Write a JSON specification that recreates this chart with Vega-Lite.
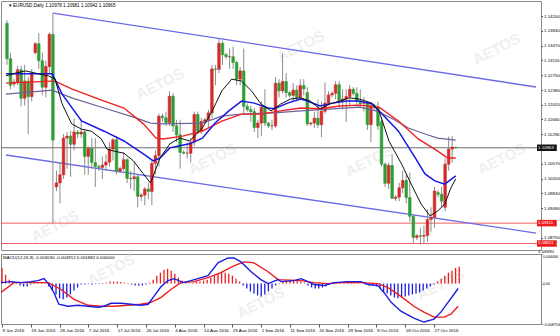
{
"$schema":"https://vega.github.io/schema/vega-lite/v6.json",
"padding":0,
"background":"#ffffff",
"spacing":4,
"bounds":"flush",
"config":{"view":{"stroke":"#8a8a8a","strokeWidth":1},"font":"Liberation Sans","axis":{"labelFont":"Liberation Sans","labelFontSize":4.4,"labelColor":"#000000","tickColor":"#555555","tickSize":1.5,"domain":false,"grid":false,"title":null,"labelOverlap":false,"labelBound":false,"labelFlush":false}},
"datasets":{
"candles":[
{"i":0,"d":"2016-06-09","o":1.1402,"h":1.1410,"l":1.1300,"c":1.1315},
{"i":1,"d":"2016-06-10","o":1.1315,"h":1.1330,"l":1.1240,"c":1.1250},
{"i":2,"d":"2016-06-12","o":1.1253,"h":1.1265,"l":1.1245,"c":1.1258},
{"i":3,"d":"2016-06-13","o":1.1258,"h":1.1298,"l":1.1250,"c":1.1288},
{"i":4,"d":"2016-06-14","o":1.1288,"h":1.1298,"l":1.1198,"c":1.1218},
{"i":5,"d":"2016-06-15","o":1.1218,"h":1.1300,"l":1.1200,"c":1.1260},
{"i":6,"d":"2016-06-16","o":1.1260,"h":1.1270,"l":1.1130,"c":1.1222},
{"i":7,"d":"2016-06-17","o":1.1222,"h":1.1290,"l":1.1210,"c":1.1278},
{"i":8,"d":"2016-06-19","o":1.1330,"h":1.1356,"l":1.1325,"c":1.1352},
{"i":9,"d":"2016-06-20","o":1.1352,"h":1.1378,"l":1.1290,"c":1.1310},
{"i":10,"d":"2016-06-21","o":1.1310,"h":1.1330,"l":1.1225,"c":1.1245},
{"i":11,"d":"2016-06-22","o":1.1245,"h":1.1310,"l":1.1220,"c":1.1296},
{"i":12,"d":"2016-06-23","o":1.1296,"h":1.1380,"l":1.1280,"c":1.1375},
{"i":13,"d":"2016-06-24","o":1.1375,"h":1.1427,"l":1.0912,"c":1.1115},
{"i":14,"d":"2016-06-26","o":1.1000,"h":1.1040,"l":1.0990,"c":1.1010},
{"i":15,"d":"2016-06-27","o":1.1010,"h":1.1060,"l":1.0960,"c":1.1030},
{"i":16,"d":"2016-06-28","o":1.1030,"h":1.1130,"l":1.1020,"c":1.1120},
{"i":17,"d":"2016-06-29","o":1.1120,"h":1.1135,"l":1.1045,"c":1.1125},
{"i":18,"d":"2016-06-30","o":1.1125,"h":1.1138,"l":1.1025,"c":1.1105},
{"i":19,"d":"2016-07-01","o":1.1105,"h":1.1168,"l":1.1090,"c":1.1135},
{"i":20,"d":"2016-07-03","o":1.1135,"h":1.1140,"l":1.1120,"c":1.1130},
{"i":21,"d":"2016-07-04","o":1.1130,"h":1.1165,"l":1.1120,"c":1.1135},
{"i":22,"d":"2016-07-05","o":1.1135,"h":1.1140,"l":1.1030,"c":1.1075},
{"i":23,"d":"2016-07-06","o":1.1075,"h":1.1100,"l":1.1030,"c":1.1095},
{"i":24,"d":"2016-07-07","o":1.1095,"h":1.1120,"l":1.1045,"c":1.1060},
{"i":25,"d":"2016-07-08","o":1.1060,"h":1.1120,"l":1.1000,"c":1.1050},
{"i":26,"d":"2016-07-10","o":1.1050,"h":1.1055,"l":1.1040,"c":1.1048},
{"i":27,"d":"2016-07-11","o":1.1048,"h":1.1075,"l":1.1020,"c":1.1054},
{"i":28,"d":"2016-07-12","o":1.1054,"h":1.1080,"l":1.1040,"c":1.1061},
{"i":29,"d":"2016-07-13","o":1.1061,"h":1.1110,"l":1.1050,"c":1.1093},
{"i":30,"d":"2016-07-14","o":1.1093,"h":1.1120,"l":1.1065,"c":1.1116},
{"i":31,"d":"2016-07-15","o":1.1116,"h":1.1125,"l":1.1030,"c":1.1039},
{"i":32,"d":"2016-07-17","o":1.1039,"h":1.1050,"l":1.1035,"c":1.1045},
{"i":33,"d":"2016-07-18","o":1.1045,"h":1.1085,"l":1.1040,"c":1.1067},
{"i":34,"d":"2016-07-19","o":1.1067,"h":1.1070,"l":1.1010,"c":1.1021},
{"i":35,"d":"2016-07-20","o":1.1021,"h":1.1040,"l":1.0995,"c":1.1020},
{"i":36,"d":"2016-07-21","o":1.1020,"h":1.1060,"l":1.0990,"c":1.1025},
{"i":37,"d":"2016-07-22","o":1.1025,"h":1.1030,"l":1.0950,"c":1.0977},
{"i":38,"d":"2016-07-24","o":1.0977,"h":1.0985,"l":1.0965,"c":1.0980},
{"i":39,"d":"2016-07-25","o":1.0980,"h":1.1000,"l":1.0955,"c":1.0995},
{"i":40,"d":"2016-07-26","o":1.0995,"h":1.1010,"l":1.0970,"c":1.0989},
{"i":41,"d":"2016-07-27","o":1.0989,"h":1.1065,"l":1.0955,"c":1.1058},
{"i":42,"d":"2016-07-28","o":1.1058,"h":1.1090,"l":1.1030,"c":1.1077},
{"i":43,"d":"2016-07-29","o":1.1077,"h":1.1180,"l":1.1050,"c":1.1174},
{"i":44,"d":"2016-07-31","o":1.1174,"h":1.1180,"l":1.1160,"c":1.1170},
{"i":45,"d":"2016-08-01","o":1.1170,"h":1.1185,"l":1.1150,"c":1.1158},
{"i":46,"d":"2016-08-02","o":1.1158,"h":1.1235,"l":1.1150,"c":1.1223},
{"i":47,"d":"2016-08-03","o":1.1223,"h":1.1230,"l":1.1135,"c":1.1150},
{"i":48,"d":"2016-08-04","o":1.1150,"h":1.1165,"l":1.1110,"c":1.1128},
{"i":49,"d":"2016-08-05","o":1.1128,"h":1.1165,"l":1.1045,"c":1.1085},
{"i":50,"d":"2016-08-07","o":1.1085,"h":1.1090,"l":1.1080,"c":1.1083},
{"i":51,"d":"2016-08-08","o":1.1083,"h":1.1110,"l":1.1070,"c":1.1083},
{"i":52,"d":"2016-08-09","o":1.1083,"h":1.1120,"l":1.1060,"c":1.1110},
{"i":53,"d":"2016-08-10","o":1.1110,"h":1.1185,"l":1.1100,"c":1.1178},
{"i":54,"d":"2016-08-11","o":1.1178,"h":1.1185,"l":1.1130,"c":1.1137},
{"i":55,"d":"2016-08-12","o":1.1137,"h":1.1170,"l":1.1130,"c":1.1161},
{"i":56,"d":"2016-08-14","o":1.1161,"h":1.1170,"l":1.1155,"c":1.1165},
{"i":57,"d":"2016-08-15","o":1.1165,"h":1.1190,"l":1.1145,"c":1.1182},
{"i":58,"d":"2016-08-16","o":1.1182,"h":1.1300,"l":1.1170,"c":1.1290},
{"i":59,"d":"2016-08-17","o":1.1290,"h":1.1300,"l":1.1250,"c":1.1289},
{"i":60,"d":"2016-08-18","o":1.1289,"h":1.1366,"l":1.1280,"c":1.1353},
{"i":61,"d":"2016-08-19","o":1.1353,"h":1.1360,"l":1.1300,"c":1.1325},
{"i":62,"d":"2016-08-21","o":1.1325,"h":1.1330,"l":1.1315,"c":1.1320},
{"i":63,"d":"2016-08-22","o":1.1320,"h":1.1340,"l":1.1290,"c":1.1320},
{"i":64,"d":"2016-08-23","o":1.1320,"h":1.1345,"l":1.1290,"c":1.1306},
{"i":65,"d":"2016-08-24","o":1.1306,"h":1.1310,"l":1.1250,"c":1.1265},
{"i":66,"d":"2016-08-25","o":1.1265,"h":1.1295,"l":1.1250,"c":1.1285},
{"i":67,"d":"2016-08-26","o":1.1285,"h":1.1340,"l":1.1180,"c":1.1198},
{"i":68,"d":"2016-08-28","o":1.1198,"h":1.1205,"l":1.1185,"c":1.1190},
{"i":69,"d":"2016-08-29","o":1.1190,"h":1.1200,"l":1.1160,"c":1.1185},
{"i":70,"d":"2016-08-30","o":1.1185,"h":1.1195,"l":1.1135,"c":1.1146},
{"i":71,"d":"2016-08-31","o":1.1146,"h":1.1165,"l":1.1120,"c":1.1157},
{"i":72,"d":"2016-09-01","o":1.1157,"h":1.1210,"l":1.1125,"c":1.1196},
{"i":73,"d":"2016-09-02","o":1.1196,"h":1.1240,"l":1.1150,"c":1.1157},
{"i":74,"d":"2016-09-04","o":1.1157,"h":1.1160,"l":1.1145,"c":1.1150},
{"i":75,"d":"2016-09-05","o":1.1150,"h":1.1165,"l":1.1140,"c":1.1150},
{"i":76,"d":"2016-09-06","o":1.1150,"h":1.1270,"l":1.1145,"c":1.1255},
{"i":77,"d":"2016-09-07","o":1.1255,"h":1.1265,"l":1.1220,"c":1.1236},
{"i":78,"d":"2016-09-08","o":1.1236,"h":1.1328,"l":1.1230,"c":1.1259},
{"i":79,"d":"2016-09-09","o":1.1259,"h":1.1280,"l":1.1220,"c":1.1232},
{"i":80,"d":"2016-09-11","o":1.1232,"h":1.1235,"l":1.1220,"c":1.1225},
{"i":81,"d":"2016-09-12","o":1.1225,"h":1.1255,"l":1.1210,"c":1.1238},
{"i":82,"d":"2016-09-13","o":1.1238,"h":1.1250,"l":1.1210,"c":1.1220},
{"i":83,"d":"2016-09-14","o":1.1220,"h":1.1265,"l":1.1215,"c":1.1249},
{"i":84,"d":"2016-09-15","o":1.1249,"h":1.1265,"l":1.1225,"c":1.1241},
{"i":85,"d":"2016-09-16","o":1.1232,"h":1.1245,"l":1.1150,"c":1.1155},
{"i":86,"d":"2016-09-18","o":1.1155,"h":1.1160,"l":1.1150,"c":1.1157},
{"i":87,"d":"2016-09-19","o":1.1157,"h":1.1185,"l":1.1145,"c":1.1169},
{"i":88,"d":"2016-09-20","o":1.1169,"h":1.1215,"l":1.1145,"c":1.1153},
{"i":89,"d":"2016-09-21","o":1.1153,"h":1.1210,"l":1.1122,"c":1.1186},
{"i":90,"d":"2016-09-22","o":1.1186,"h":1.1257,"l":1.1180,"c":1.1206},
{"i":91,"d":"2016-09-23","o":1.1206,"h":1.1235,"l":1.1200,"c":1.1226},
{"i":92,"d":"2016-09-25","o":1.1226,"h":1.1235,"l":1.1220,"c":1.1230},
{"i":93,"d":"2016-09-26","o":1.1230,"h":1.1260,"l":1.1215,"c":1.1251},
{"i":94,"d":"2016-09-27","o":1.1251,"h":1.1260,"l":1.1195,"c":1.1212},
{"i":95,"d":"2016-09-28","o":1.1212,"h":1.1240,"l":1.1190,"c":1.1216},
{"i":96,"d":"2016-09-29","o":1.1216,"h":1.1240,"l":1.1160,"c":1.1222},
{"i":97,"d":"2016-09-30","o":1.1222,"h":1.1250,"l":1.1200,"c":1.1240},
{"i":98,"d":"2016-10-02","o":1.1240,"h":1.1245,"l":1.1225,"c":1.1230},
{"i":99,"d":"2016-10-03","o":1.1230,"h":1.1245,"l":1.1200,"c":1.1210},
{"i":100,"d":"2016-10-04","o":1.1210,"h":1.1240,"l":1.1195,"c":1.1205},
{"i":101,"d":"2016-10-05","o":1.1205,"h":1.1220,"l":1.1185,"c":1.1205},
{"i":102,"d":"2016-10-06","o":1.1205,"h":1.1210,"l":1.1140,"c":1.1153},
{"i":103,"d":"2016-10-07","o":1.1153,"h":1.1200,"l":1.1110,"c":1.1200},
{"i":104,"d":"2016-10-09","o":1.1200,"h":1.1205,"l":1.1190,"c":1.1195},
{"i":105,"d":"2016-10-10","o":1.1195,"h":1.1210,"l":1.1140,"c":1.1150},
{"i":106,"d":"2016-10-11","o":1.1160,"h":1.1165,"l":1.1050,"c":1.1056},
{"i":107,"d":"2016-10-12","o":1.1056,"h":1.1060,"l":1.1000,"c":1.1009},
{"i":108,"d":"2016-10-13","o":1.1009,"h":1.1060,"l":1.0995,"c":1.1053},
{"i":109,"d":"2016-10-14","o":1.1053,"h":1.1080,"l":1.0970,"c":1.0972},
{"i":110,"d":"2016-10-16","o":1.0972,"h":1.0980,"l":1.0965,"c":1.0975},
{"i":111,"d":"2016-10-17","o":1.0975,"h":1.1010,"l":1.0965,"c":1.0998},
{"i":112,"d":"2016-10-18","o":1.0998,"h":1.1040,"l":1.0985,"c":1.1016},
{"i":113,"d":"2016-10-19","o":1.1016,"h":1.1030,"l":1.0960,"c":1.0974},
{"i":114,"d":"2016-10-20","o":1.0974,"h":1.1035,"l":1.0915,"c":1.0928},
{"i":115,"d":"2016-10-21","o":1.0928,"h":1.0930,"l":1.0860,"c":1.0876},
{"i":116,"d":"2016-10-23","o":1.0876,"h":1.0885,"l":1.0870,"c":1.0880},
{"i":117,"d":"2016-10-24","o":1.0880,"h":1.0900,"l":1.0858,"c":1.0879},
{"i":118,"d":"2016-10-25","o":1.0879,"h":1.0905,"l":1.0861,"c":1.0881},
{"i":119,"d":"2016-10-26","o":1.0881,"h":1.0945,"l":1.0865,"c":1.0920},
{"i":120,"d":"2016-10-27","o":1.0920,"h":1.0950,"l":1.0890,"c":1.0925},
{"i":121,"d":"2016-10-28","o":1.0925,"h":1.1000,"l":1.0900,"c":1.0990},
{"i":122,"d":"2016-10-30","o":1.0986,"h":1.0992,"l":1.0975,"c":1.0982},
{"i":123,"d":"2016-10-31","o":1.0982,"h":1.1000,"l":1.0950,"c":1.0965},
{"i":124,"d":"2016-11-01","o":1.0950,"h":1.1070,"l":1.0940,"c":1.1056},
{"i":125,"d":"2016-11-02","o":1.1056,"h":1.1124,"l":1.1040,"c":1.1093},
{"i":126,"d":"2016-11-03","o":1.1093,"h":1.1125,"l":1.1060,"c":1.1098},
{"i":127,"d":"2016-11-04","o":1.10978,"h":1.10981,"l":1.10942,"c":1.10965}
],
"ma":[
{"i":-0.3,"m":"black","v":1.1273},{"i":2.5,"m":"black","v":1.1280},{"i":5.3,"m":"black","v":1.1285},{"i":8.9,"m":"black","v":1.1278},{"i":11.7,"m":"black","v":1.1273},{"i":13.6,"m":"black","v":1.1265},{"i":15.6,"m":"black","v":1.1204},{"i":18.3,"m":"black","v":1.1155},{"i":21.1,"m":"black","v":1.1142},{"i":23.9,"m":"black","v":1.1137},{"i":26.7,"m":"black","v":1.1118},{"i":28.3,"m":"black","v":1.1093},{"i":30.3,"m":"black","v":1.1088},{"i":33.1,"m":"black","v":1.1083},{"i":35.8,"m":"black","v":1.1064},{"i":38.6,"m":"black","v":1.1032},{"i":40.6,"m":"black","v":1.1010},{"i":41.4,"m":"black","v":1.1027},{"i":43.3,"m":"black","v":1.1071},{"i":46.1,"m":"black","v":1.1106},{"i":48.9,"m":"black","v":1.1120},{"i":51.7,"m":"black","v":1.1113},{"i":55.3,"m":"black","v":1.1145},{"i":58.1,"m":"black","v":1.1187},{"i":60.8,"m":"black","v":1.1236},{"i":63.6,"m":"black","v":1.1265},{"i":66.4,"m":"black","v":1.1260},{"i":69.2,"m":"black","v":1.1236},{"i":71.9,"m":"black","v":1.1204},{"i":74.7,"m":"black","v":1.1187},{"i":77.5,"m":"black","v":1.1204},{"i":80.3,"m":"black","v":1.1216},{"i":83.1,"m":"black","v":1.1219},{"i":85.8,"m":"black","v":1.1211},{"i":88.6,"m":"black","v":1.1192},{"i":91.4,"m":"black","v":1.1204},{"i":94.2,"m":"black","v":1.1211},{"i":96.9,"m":"black","v":1.1219},{"i":99.7,"m":"black","v":1.1216},{"i":103.3,"m":"black","v":1.1206},{"i":105.3,"m":"black","v":1.1187},{"i":108.1,"m":"black","v":1.1113},{"i":111.7,"m":"black","v":1.1056},{"i":114.4,"m":"black","v":1.1007},{"i":117.2,"m":"black","v":1.0958},{"i":119.7,"m":"black","v":1.0929},{"i":121.9,"m":"black","v":1.0941},{"i":123.9,"m":"black","v":1.0958},{"i":125.6,"m":"black","v":1.0997},{"i":127,"m":"black","v":1.1020},
{"i":-0.3,"m":"blue","v":1.1278},{"i":8.9,"m":"blue","v":1.1278},{"i":12.8,"m":"blue","v":1.1278},{"i":15.6,"m":"blue","v":1.1228},{"i":21.1,"m":"blue","v":1.1162},{"i":27.5,"m":"blue","v":1.1137},{"i":33.1,"m":"blue","v":1.1113},{"i":38.6,"m":"blue","v":1.1081},{"i":41.4,"m":"blue","v":1.1064},{"i":43.3,"m":"blue","v":1.1071},{"i":46.1,"m":"blue","v":1.1096},{"i":48.9,"m":"blue","v":1.1101},{"i":51.7,"m":"blue","v":1.1106},{"i":55.3,"m":"blue","v":1.1120},{"i":58.9,"m":"blue","v":1.1157},{"i":62.8,"m":"blue","v":1.1187},{"i":66.4,"m":"blue","v":1.1211},{"i":70,"m":"blue","v":1.1206},{"i":73.9,"m":"blue","v":1.1194},{"i":75.6,"m":"blue","v":1.1192},{"i":79.4,"m":"blue","v":1.1206},{"i":83.1,"m":"blue","v":1.1216},{"i":85,"m":"blue","v":1.1211},{"i":88.6,"m":"blue","v":1.1199},{"i":92.2,"m":"blue","v":1.1206},{"i":96.1,"m":"blue","v":1.1211},{"i":99.7,"m":"blue","v":1.1211},{"i":103.3,"m":"blue","v":1.1204},{"i":105.3,"m":"blue","v":1.1187},{"i":110.8,"m":"blue","v":1.1137},{"i":115.6,"m":"blue","v":1.1071},{"i":118.3,"m":"blue","v":1.1032},{"i":121.1,"m":"blue","v":1.1015},{"i":123.9,"m":"blue","v":1.1007},{"i":127,"m":"blue","v":1.1027},
{"i":-0.3,"m":"red","v":1.1255},{"i":12.8,"m":"red","v":1.1260},{"i":13.6,"m":"red","v":1.1260},{"i":18.3,"m":"red","v":1.1241},{"i":27.5,"m":"red","v":1.1211},{"i":33.1,"m":"red","v":1.1194},{"i":38.6,"m":"red","v":1.1155},{"i":42.2,"m":"red","v":1.1120},{"i":44.2,"m":"red","v":1.1118},{"i":49.7,"m":"red","v":1.1125},{"i":55.3,"m":"red","v":1.1137},{"i":60.8,"m":"red","v":1.1162},{"i":66.4,"m":"red","v":1.1179},{"i":71.9,"m":"red","v":1.1179},{"i":77.5,"m":"red","v":1.1187},{"i":83.1,"m":"red","v":1.1194},{"i":88.6,"m":"red","v":1.1192},{"i":94.2,"m":"red","v":1.1199},{"i":99.7,"m":"red","v":1.1201},{"i":105.3,"m":"red","v":1.1196},{"i":110.8,"m":"red","v":1.1162},{"i":116.4,"m":"red","v":1.1118},{"i":121.9,"m":"red","v":1.1088},{"i":124.7,"m":"red","v":1.1071},{"i":127,"m":"red","v":1.1071},
{"i":-0.3,"m":"purple","v":1.1228},{"i":12.8,"m":"purple","v":1.1238},{"i":18.3,"m":"purple","v":1.1219},{"i":27.5,"m":"purple","v":1.1194},{"i":36.7,"m":"purple","v":1.1169},{"i":40.6,"m":"purple","v":1.1157},{"i":44.2,"m":"purple","v":1.1155},{"i":55.3,"m":"purple","v":1.1157},{"i":60.8,"m":"purple","v":1.1174},{"i":66.4,"m":"purple","v":1.1179},{"i":75.6,"m":"purple","v":1.1182},{"i":83.1,"m":"purple","v":1.1187},{"i":92.2,"m":"purple","v":1.1192},{"i":99.7,"m":"purple","v":1.1196},{"i":104.4,"m":"purple","v":1.1187},{"i":108.9,"m":"purple","v":1.1169},{"i":113.6,"m":"purple","v":1.1145},{"i":118.3,"m":"purple","v":1.1130},{"i":121.9,"m":"purple","v":1.1120},{"i":127,"m":"purple","v":1.1115}
],
"chan":[{"i":13,"p":1.1427,"i2":149.722,"p2":1.12456},{"i":-0.278,"p":1.10785,"i2":149.722,"p2":1.08868}],
"levels":[{"p":1.10963,"t":"1.10963","k":"bid"},{"p":1.09111,"t":"1.09111","k":"lvl"},{"p":1.08611,"t":"1.08611","k":"lvl"}],
"wm":[{"i":83.1,"p":1.1346},{"i":43.3,"p":1.1253},{"i":13.6,"p":1.0904},{"i":58.1,"p":1.1069},{"i":102.5,"p":1.1064},{"i":138.6,"p":1.1339},{"i":140,"p":1.1069}],
"wm2":[{"i":30.3,"v":0.003},{"i":71.9,"v":-0.0041},{"i":121.9,"v":-0.0002}],
"macd":[
{"i":-0.3,"s":"main","v":0.00021},{"i":2.5,"s":"main","v":0.00043},{"i":5.3,"s":"main","v":0.00021},{"i":8.1,"s":"main","v":0.00043},{"i":10,"s":"main","v":0.00064},{"i":11.7,"s":"main","v":0.00107},{"i":13.1,"s":"main","v":-0.00021},{"i":14.4,"s":"main","v":-0.00192},{"i":15.8,"s":"main","v":-0.00448},{"i":18.3,"s":"main","v":-0.00491},{"i":21.1,"s":"main","v":-0.0047},{"i":23.9,"s":"main","v":-0.00491},{"i":26.7,"s":"main","v":-0.00512},{"i":28.3,"s":"main","v":-0.00491},{"i":30.3,"s":"main","v":-0.00427},{"i":33.1,"s":"main","v":-0.00427},{"i":35.8,"s":"main","v":-0.00448},{"i":38.6,"s":"main","v":-0.0047},{"i":40.6,"s":"main","v":-0.00448},{"i":42.2,"s":"main","v":-0.00278},{"i":44.2,"s":"main","v":-0.00064},{"i":46.1,"s":"main","v":0.00064},{"i":47.8,"s":"main","v":0.00107},{"i":50.3,"s":"main","v":0.00021},{"i":52.5,"s":"main","v":0.00064},{"i":55.3,"s":"main","v":0.00128},{"i":57.2,"s":"main","v":0.00171},{"i":60,"s":"main","v":0.00448},{"i":62.8,"s":"main","v":0.00555},{"i":64.4,"s":"main","v":0.00555},{"i":66.4,"s":"main","v":0.0047},{"i":69.2,"s":"main","v":0.00256},{"i":71.9,"s":"main","v":0.00085},{"i":73.9,"s":"main","v":0},{"i":76.7,"s":"main","v":0.00085},{"i":77.5,"s":"main","v":0.00043},{"i":81.1,"s":"main","v":0.00064},{"i":83.1,"s":"main","v":0.00107},{"i":85,"s":"main","v":0.00043},{"i":86.7,"s":"main","v":-0.00021},{"i":89.4,"s":"main","v":-0.00043},{"i":92.2,"s":"main","v":0.00021},{"i":96.1,"s":"main","v":0.00043},{"i":99.7,"s":"main","v":0.00043},{"i":101.7,"s":"main","v":-0.00021},{"i":104.4,"s":"main","v":-0.00043},{"i":106.1,"s":"main","v":-0.00192},{"i":108.1,"s":"main","v":-0.00406},{"i":110.8,"s":"main","v":-0.00598},{"i":114.4,"s":"main","v":-0.00747},{"i":117.2,"s":"main","v":-0.00833},{"i":120,"s":"main","v":-0.00769},{"i":121.9,"s":"main","v":-0.00619},{"i":123.9,"s":"main","v":-0.00406},{"i":126.7,"s":"main","v":-0.00107},
{"i":-0.3,"s":"signal","v":-0.00192},{"i":3.3,"s":"signal","v":0.00021},{"i":8.9,"s":"signal","v":0.00021},{"i":12.8,"s":"signal","v":0.00021},{"i":16.4,"s":"signal","v":-0.00128},{"i":20,"s":"signal","v":-0.00342},{"i":23.9,"s":"signal","v":-0.0047},{"i":27.5,"s":"signal","v":-0.00491},{"i":31.1,"s":"signal","v":-0.00491},{"i":35,"s":"signal","v":-0.0047},{"i":38.6,"s":"signal","v":-0.00448},{"i":41.4,"s":"signal","v":-0.00406},{"i":44.2,"s":"signal","v":-0.00299},{"i":46.9,"s":"signal","v":-0.00128},{"i":49.7,"s":"signal","v":0.00021},{"i":53.3,"s":"signal","v":0.00043},{"i":57.2,"s":"signal","v":0.00128},{"i":60.8,"s":"signal","v":0.00235},{"i":64.4,"s":"signal","v":0.00384},{"i":67.2,"s":"signal","v":0.0047},{"i":70,"s":"signal","v":0.00448},{"i":73.9,"s":"signal","v":0.00256},{"i":76.7,"s":"signal","v":0.00085},{"i":83.1,"s":"signal","v":0.00064},{"i":86.7,"s":"signal","v":0.00021},{"i":90.6,"s":"signal","v":0},{"i":94.2,"s":"signal","v":0.00021},{"i":99.7,"s":"signal","v":0.00021},{"i":104.4,"s":"signal","v":0},{"i":107.2,"s":"signal","v":-0.00085},{"i":110.8,"s":"signal","v":-0.00278},{"i":114.4,"s":"signal","v":-0.00491},{"i":117.2,"s":"signal","v":-0.00619},{"i":120,"s":"signal","v":-0.00726},{"i":122.8,"s":"signal","v":-0.00726},{"i":124.7,"s":"signal","v":-0.00662},{"i":126.7,"s":"signal","v":-0.00491}
],
"hist":[
{"i":0,"h":0.00342},{"i":1,"h":0.00192},{"i":2,"h":0.00085},{"i":3,"h":0.00043},{"i":4,"h":0.00021},{"i":5,"h":-0.00043},{"i":6,"h":-0.00064},{"i":7,"h":-0.00064},{"i":8,"h":-0.00021},{"i":9,"h":-0.00011},{"i":10,"h":0.00011},{"i":11,"h":0.00021},{"i":12,"h":0.00021},{"i":13,"h":-0.00064},{"i":14,"h":-0.00149},{"i":15,"h":-0.00235},{"i":16,"h":-0.0032},{"i":17,"h":-0.00342},{"i":18,"h":-0.00299},{"i":19,"h":-0.00235},{"i":20,"h":-0.00149},{"i":21,"h":-0.00085},{"i":22,"h":-0.00021},{"i":23,"h":-0.00021},{"i":24,"h":-0.00011},{"i":25,"h":-0.00021},{"i":26,"h":-0.00011},{"i":27,"h":-0.00011},{"i":28,"h":-0.00011},{"i":29,"h":0.00021},{"i":30,"h":0.00043},{"i":31,"h":0.00043},{"i":32,"h":0.00043},{"i":33,"h":0.00032},{"i":34,"h":0.00021},{"i":35,"h":0.00011},{"i":36,"h":-0.00021},{"i":37,"h":-0.00043},{"i":38,"h":-0.00043},{"i":39,"h":-0.00043},{"i":40,"h":-0.00021},{"i":41,"h":0.00021},{"i":42,"h":0.00085},{"i":43,"h":0.00171},{"i":44,"h":0.00235},{"i":45,"h":0.00299},{"i":46,"h":0.0032},{"i":47,"h":0.00278},{"i":48,"h":0.00214},{"i":49,"h":0.00128},{"i":50,"h":0.00064},{"i":51,"h":0.00021},{"i":52,"h":0.00011},{"i":53,"h":0.00021},{"i":54,"h":0.00043},{"i":55,"h":0.00043},{"i":56,"h":0.00064},{"i":57,"h":0.00085},{"i":58,"h":0.00128},{"i":59,"h":0.00171},{"i":60,"h":0.00214},{"i":61,"h":0.00256},{"i":62,"h":0.00235},{"i":63,"h":0.00214},{"i":64,"h":0.00171},{"i":65,"h":0.00107},{"i":66,"h":0.00043},{"i":67,"h":-0.00043},{"i":68,"h":-0.00107},{"i":69,"h":-0.00171},{"i":70,"h":-0.00214},{"i":71,"h":-0.00256},{"i":72,"h":-0.00278},{"i":73,"h":-0.00235},{"i":74,"h":-0.00171},{"i":75,"h":-0.00107},{"i":76,"h":-0.00043},{"i":77,"h":0.00011},{"i":78,"h":0.00043},{"i":79,"h":0.00064},{"i":80,"h":0.00064},{"i":81,"h":0.00064},{"i":82,"h":0.00064},{"i":83,"h":0.00043},{"i":84,"h":0.00021},{"i":85,"h":-0.00043},{"i":86,"h":-0.00085},{"i":87,"h":-0.00107},{"i":88,"h":-0.00107},{"i":89,"h":-0.00085},{"i":90,"h":-0.00064},{"i":91,"h":-0.00021},{"i":92,"h":0.00011},{"i":93,"h":0.00021},{"i":94,"h":0.00021},{"i":95,"h":0.00021},{"i":96,"h":0.00021},{"i":97,"h":0.00021},{"i":98,"h":0.00011},{"i":99,"h":0.00011},{"i":100,"h":0.00003},{"i":101,"h":-0.00021},{"i":102,"h":-0.00043},{"i":103,"h":-0.00043},{"i":104,"h":-0.00064},{"i":105,"h":-0.00107},{"i":106,"h":-0.00171},{"i":107,"h":-0.00214},{"i":108,"h":-0.00256},{"i":109,"h":-0.00299},{"i":110,"h":-0.0032},{"i":111,"h":-0.00299},{"i":112,"h":-0.00278},{"i":113,"h":-0.00256},{"i":114,"h":-0.00235},{"i":115,"h":-0.00214},{"i":116,"h":-0.00192},{"i":117,"h":-0.00149},{"i":118,"h":-0.00107},{"i":119,"h":-0.00064},{"i":120,"h":-0.00021},{"i":121,"h":0.00043},{"i":122,"h":0.00107},{"i":123,"h":0.00171},{"i":124,"h":0.00235},{"i":125,"h":0.00278},{"i":126,"h":0.00342},{"i":127,"h":0.00363}
]
},
"vconcat":[
{
"width":540,"height":249,
"layer":[
{"data":{"name":"wm"},"mark":{"type":"text","text":"AETOS","fontSize":15,"fontWeight":"bold","angle":-27,"color":"#efefef","clip":true},
 "encoding":{"x":{"field":"i","type":"quantitative","scale":{"domain":[-0.278,149.722],"nice":false,"zero":false},"axis":null},
  "y":{"field":"p","type":"quantitative","scale":{"domain":[1.08451,1.14569],"nice":false,"zero":false},
   "axis":{"orient":"right","values":[1.142,1.1384,1.1347,1.1311,1.1275,1.1238,1.1202,1.1166,1.1129,1.1057,1.102,1.0984,1.0948,1.0875],"tickCount":100,"format":".5f","labelPadding":1,"labelOverlap":false}}}},
{"data":{"name":"levels"},"mark":{"type":"rule","strokeWidth":1},
 "encoding":{"y":{"field":"p","type":"quantitative"},
  "color":{"field":"k","type":"nominal","scale":{"domain":["bid","lvl"],"range":["#6e6e6e","#f06060"]},"legend":null}}},
{"data":{"name":"chan"},"mark":{"type":"rule","strokeWidth":1.3,"color":"#6a6ae8","clip":true},
 "encoding":{"x":{"field":"i","type":"quantitative","axis":null},
  "y":{"field":"p","type":"quantitative"},"x2":{"field":"i2"},"y2":{"field":"p2"}}},
{"data":{"name":"candles"},"mark":{"type":"rule","strokeWidth":1,"color":"#8c8c8c","clip":true},
 "encoding":{"x":{"field":"i","type":"quantitative","axis":null},
  "y":{"field":"l","type":"quantitative"},"y2":{"field":"h"}}},
{"data":{"name":"candles"},"mark":{"type":"bar","size":2.6,"strokeWidth":0.6,"clip":true},
 "encoding":{"x":{"field":"i","type":"quantitative","axis":null},
  "y":{"field":"o","type":"quantitative"},"y2":{"field":"c"},
  "color":{"condition":{"test":"datum.c >= datum.o","value":"#d42a2a"},"value":"#2f9e36"},
  "stroke":{"condition":{"test":"datum.c >= datum.o","value":"#d42a2a"},"value":"#2f9e36"}}},
{"data":{"name":"ma"},"transform":[{"filter":"datum.m == 'purple'"}],"mark":{"type":"line","strokeWidth":1.2,"color":"#6b6399","clip":true},
 "encoding":{"x":{"field":"i","type":"quantitative","axis":null},"y":{"field":"v","type":"quantitative"}}},
{"data":{"name":"ma"},"transform":[{"filter":"datum.m == 'red'"}],"mark":{"type":"line","strokeWidth":1.4,"color":"#ee2222","clip":true},
 "encoding":{"x":{"field":"i","type":"quantitative","axis":null},"y":{"field":"v","type":"quantitative"}}},
{"data":{"name":"ma"},"transform":[{"filter":"datum.m == 'blue'"}],"mark":{"type":"line","strokeWidth":1.5,"color":"#1818e0","clip":true},
 "encoding":{"x":{"field":"i","type":"quantitative","axis":null},"y":{"field":"v","type":"quantitative"}}},
{"data":{"name":"ma"},"transform":[{"filter":"datum.m == 'black'"}],"mark":{"type":"line","strokeWidth":1,"color":"#111111","clip":true},
 "encoding":{"x":{"field":"i","type":"quantitative","axis":null},"y":{"field":"v","type":"quantitative"}}},
{"data":{"name":"levels"},"mark":{"type":"rect","height":6.5},
 "encoding":{"x":{"datum":150.0,"type":"quantitative","axis":null},"x2":{"datum":155.6},
  "y":{"field":"p","type":"quantitative"},
  "color":{"field":"k","type":"nominal","scale":{"domain":["bid","lvl"],"range":["#111111","#ee1c1c"]},"legend":null}}},
{"data":{"name":"levels"},"mark":{"type":"text","align":"left","baseline":"middle","fontSize":4.4,"color":"#ffffff"},
 "encoding":{"x":{"datum":150.3,"type":"quantitative","axis":null},
  "y":{"field":"p","type":"quantitative"},"text":{"field":"t"}}},
{"data":{"values":[{"t":"1.08390"}]},"mark":{"type":"text","align":"left","baseline":"middle","fontSize":4.4,"color":"#000000"},
 "encoding":{"x":{"datum":150.3,"type":"quantitative","axis":null},
  "y":{"datum":1.0839,"type":"quantitative"},"text":{"field":"t"}}},
{"data":{"values":[{"t":"▾ EURUSD,Daily  1.10978 1.10981 1.10942 1.10965"}]},"mark":{"type":"text","align":"left","baseline":"middle","fontSize":4.6,"color":"#000000"},
 "encoding":{"x":{"datum":0.5,"type":"quantitative","axis":null},
  "y":{"datum":1.14446,"type":"quantitative"},"text":{"field":"t"}}}
],
"resolve":{"scale":{"color":"independent"}}
},
{
"width":540,"height":70,
"layer":[
{"data":{"name":"wm2"},"mark":{"type":"text","text":"AETOS","fontSize":15,"fontWeight":"bold","angle":-27,"color":"#efefef","clip":true},
 "encoding":{"x":{"field":"i","type":"quantitative","scale":{"domain":[-0.278,149.722],"nice":false,"zero":false},
   "axis":{"orient":"bottom","values":[0,8,16,24,32,40,48,56,64,72,80,88,96,104,112,120],"tickCount":100,"labelExpr":"['9 Jun 2016','19 Jun 2016','28 Jun 2016','7 Jul 2016','17 Jul 2016','26 Jul 2016','4 Aug 2016','14 Aug 2016','23 Aug 2016','1 Sep 2016','11 Sep 2016','20 Sep 2016','29 Sep 2016','9 Oct 2016','18 Oct 2016','27 Oct 2016'][round(datum.value/8)]","labelAlign":"left","labelPadding":1,"tickSize":3,"labelFontSize":4.4,"labelOverlap":false}},
  "y":{"field":"v","type":"quantitative","scale":{"domain":[-0.008754,0.006406],"nice":false,"zero":false},
   "axis":{"orient":"right","values":[0.006406,0,-0.008754],"tickCount":100,"labelExpr":"datum.value == 0 ? '0.00' : format(datum.value, '.6f')","labelFontSize":3.6,"labelPadding":0.5,"tickSize":1,"labelOverlap":false,
     "labelBaseline":{"condition":{"test":"datum.value > 0.006","value":"top"},"value":"middle"}}}}},
{"data":{"name":"hist"},"mark":{"type":"rule","strokeWidth":1.3,"clip":true},
 "encoding":{"x":{"field":"i","type":"quantitative"},
  "y":{"field":"h","type":"quantitative"},
  "y2":{"datum":0},
  "color":{"condition":{"test":"datum.h > 0","value":"#ee1c1c"},"value":"#1c1ce0"}}},
{"data":{"name":"macd"},"transform":[{"filter":"datum.s == 'signal'"}],"mark":{"type":"line","strokeWidth":1.4,"color":"#ee1c1c","clip":true},
 "encoding":{"x":{"field":"i","type":"quantitative"},"y":{"field":"v","type":"quantitative"}}},
{"data":{"name":"macd"},"transform":[{"filter":"datum.s == 'main'"}],"mark":{"type":"line","strokeWidth":1.4,"color":"#1c1ce0","clip":true},
 "encoding":{"x":{"field":"i","type":"quantitative"},"y":{"field":"v","type":"quantitative"}}},
{"data":{"values":[{"t":"MACD(12,26,9) -0.003030 -0.004912 0.001882 0.000000"}]},"mark":{"type":"text","align":"left","baseline":"middle","fontSize":4.4,"color":"#000000"},
 "encoding":{"x":{"datum":0.3,"type":"quantitative"},"y":{"datum":0.0055,"type":"quantitative"},"text":{"field":"t"}}}
]
}
]
}
